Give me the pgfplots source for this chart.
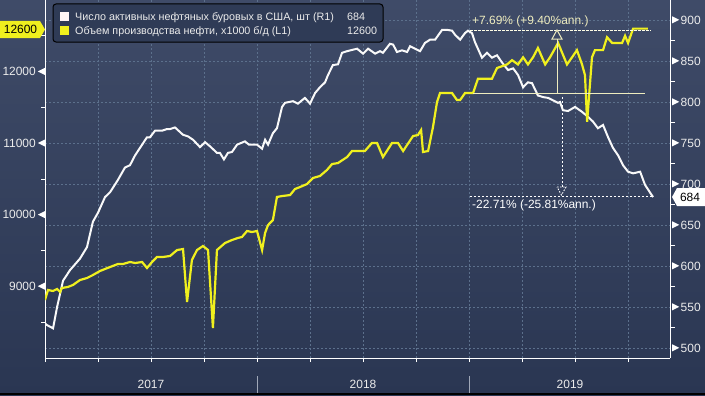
\documentclass[border=0pt]{standalone}
\usepackage{fontspec}
\setmainfont{Liberation Sans}
\usepackage{pgfplots}
\pgfplotsset{compat=1.18}
\definecolor{bgtop}{RGB}{63,75,104}
\definecolor{bgbot}{RGB}{42,54,82}
\definecolor{gridc}{RGB}{92,112,140}
\definecolor{yel}{RGB}{240,240,30}
\definecolor{cream}{RGB}{238,236,190}
\definecolor{legfill}{RGB}{47,59,86}
\definecolor{txt}{RGB}{235,235,235}
\definecolor{sepc}{RGB}{160,168,184}
\newcommand{\ltri}{\tikz[baseline=-4.3bp]\fill[white] (0,0) -- (7bp,3.5bp) -- (7bp,-3.5bp) -- cycle;}
\newcommand{\rtri}{\tikz[baseline=-4.3bp]\fill[white] (0,3.5bp) -- (7bp,0) -- (0,-3.5bp) -- cycle;}
\begin{document}
\begin{tikzpicture}[x=1bp,y=1bp]
\useasboundingbox (0,0) rectangle (705,395);
\shade[top color=bgtop, bottom color=bgbot] (0,0) rectangle (705,395);
\fill[black] (0,0) rectangle (705,2);
\draw[sepc, line width=1bp] (257,2) -- (257,19);
\draw[sepc, line width=1bp] (469,2) -- (469,19);
\node[txt, font=\fontsize{12}{14}\selectfont] at (151,11) {2017};
\node[txt, font=\fontsize{12}{14}\selectfont] at (363,11) {2018};
\node[txt, font=\fontsize{12}{14}\selectfont] at (570,11) {2019};

% right axis: rig count
\begin{axis}[
  at={(45bp,37bp)}, anchor=south west, scale only axis,
  width=625bp, height=358bp,
  xmin=2017, xmax=2019.948, ymin=487.8, ymax=924.4,
  axis y line*=right, axis x line*=bottom,
  axis line style={white, line width=1bp, -},
  xtick={2017,2017.25,...,2019.8}, minor x tick num=2,
  xticklabels={},
  ytick={500,550,...,900}, minor y tick num=1,
  tick align=outside,
  major tick length=4bp, minor tick length=5bp,
  tick style={white, line width=0.8bp},
  major y tick style={draw=none},
  xmajorgrids, ymajorgrids,
  major grid style={gridc, dash pattern=on 2bp off 2bp, line width=0.7bp},
  scaled y ticks=false,
  /pgf/number format/set thousands separator={},
  /pgf/number format/assume math mode=true,
  yticklabel={\rtri\hspace{1.5bp}\pgfmathprintnumber{\tick}},
  yticklabel style={anchor=west, inner sep=0pt, xshift=-2bp, text=txt, font=\fontsize{12}{14}\selectfont},
]
\addplot[white!95!gray, line width=2bp] coordinates {
(2017.000,530) (2017.009,528) (2017.038,524) (2017.057,550) (2017.085,582)
(2017.118,595) (2017.165,609) (2017.198,623) (2017.226,654) (2017.250,665)
(2017.283,684) (2017.307,690) (2017.344,705) (2017.377,720) (2017.401,723)
(2017.425,735) (2017.448,744) (2017.481,757) (2017.495,757) (2017.519,765)
(2017.552,765) (2017.575,767) (2017.590,767) (2017.613,769) (2017.651,760)
(2017.675,758) (2017.698,754) (2017.731,745) (2017.755,751) (2017.778,746)
(2017.811,738) (2017.825,738) (2017.844,730) (2017.863,738) (2017.882,739)
(2017.906,748) (2017.943,752) (2017.962,748) (2018.000,748) (2018.024,743)
(2018.038,754) (2018.052,748) (2018.075,762) (2018.094,768) (2018.118,794)
(2018.132,799) (2018.170,801) (2018.193,798) (2018.226,805) (2018.250,798)
(2018.274,811) (2018.297,818) (2018.321,824) (2018.335,833) (2018.358,845)
(2018.382,846) (2018.401,860) (2018.425,862) (2018.472,865) (2018.500,859)
(2018.524,865) (2018.557,859) (2018.580,862) (2018.594,860) (2018.627,871)
(2018.642,870) (2018.660,861) (2018.684,863) (2018.708,861) (2018.722,868)
(2018.769,862) (2018.792,872) (2018.816,876) (2018.840,876) (2018.873,888)
(2018.896,888) (2018.920,887) (2018.934,882) (2018.958,876) (2018.981,884)
(2018.995,887) (2019.014,884) (2019.028,873) (2019.061,854) (2019.085,860)
(2019.108,854) (2019.132,857) (2019.156,848) (2019.184,839) (2019.208,841)
(2019.231,833) (2019.255,818) (2019.278,824) (2019.297,823) (2019.325,808)
(2019.349,806) (2019.373,805) (2019.396,802) (2019.420,799) (2019.429,800)
(2019.443,790) (2019.467,789) (2019.500,794) (2019.533,788) (2019.561,782)
(2019.585,776) (2019.608,768) (2019.632,772) (2019.656,757) (2019.679,744)
(2019.703,735) (2019.726,723) (2019.750,715) (2019.774,713) (2019.807,715)
(2019.830,699) (2019.868,684)
};
\end{axis}

% left axis: oil production
\begin{axis}[
  at={(45bp,37bp)}, anchor=south west, scale only axis,
  width=625bp, height=358bp,
  xmin=2017, xmax=2019.948, ymin=8000, ymax=13000,
  axis y line*=left, hide x axis,
  axis line style={white, line width=1bp, -},
  ytick={9000,10000,11000,12000},
  minor ytick={8500,9500,10500,11500,12500},
  tick align=outside,
  major tick length=0bp, minor tick length=4bp,
  tick style={white, line width=0.8bp},
  major y tick style={draw=none},
  scaled y ticks=false,
  /pgf/number format/set thousands separator={},
  /pgf/number format/assume math mode=true,
  yticklabel={\pgfmathprintnumber{\tick}\hspace{2bp}\ltri},
  yticklabel style={anchor=east, inner sep=0pt, text=txt, font=\fontsize{12}{14}\selectfont},
]
\addplot[yel, line width=2.2bp] coordinates {
(2017.000,8810) (2017.014,8950) (2017.038,8936) (2017.057,8964) (2017.071,8922)
(2017.080,8978) (2017.108,8992) (2017.132,9020) (2017.165,9089) (2017.198,9117)
(2017.226,9159) (2017.259,9215) (2017.307,9271) (2017.344,9313) (2017.368,9313)
(2017.401,9341) (2017.425,9327) (2017.458,9341) (2017.481,9257) (2017.505,9341)
(2017.528,9411) (2017.557,9411) (2017.590,9425) (2017.623,9508) (2017.651,9522)
(2017.670,8782) (2017.693,9369) (2017.717,9508) (2017.745,9564) (2017.769,9508)
(2017.792,8419) (2017.811,9508) (2017.849,9606) (2017.882,9648) (2017.910,9676)
(2017.929,9690) (2017.953,9774) (2017.976,9760) (2018.000,9774) (2018.024,9508)
(2018.038,9746) (2018.052,9857) (2018.075,9927) (2018.094,10249) (2018.118,10262)
(2018.156,10276) (2018.179,10360) (2018.203,10388) (2018.236,10430) (2018.264,10514)
(2018.297,10542) (2018.330,10626) (2018.354,10709) (2018.382,10723) (2018.425,10807)
(2018.448,10891) (2018.509,10891) (2018.542,11003) (2018.566,11003) (2018.594,10807)
(2018.637,11003) (2018.665,11003) (2018.689,10891) (2018.736,11100) (2018.759,11114)
(2018.774,11184) (2018.783,10877) (2018.807,10891) (2018.830,11226) (2018.849,11575)
(2018.863,11700) (2018.920,11700) (2018.943,11603) (2018.958,11603) (2018.981,11700)
(2019.019,11700) (2019.042,11900) (2019.108,11900) (2019.132,12050) (2019.179,12100)
(2019.203,12160) (2019.231,12100) (2019.255,12200) (2019.278,12100) (2019.302,12200)
(2019.325,12330) (2019.359,12100) (2019.382,12200) (2019.420,12400) (2019.462,12100)
(2019.486,12200) (2019.509,12300) (2019.533,12100) (2019.547,11950) (2019.557,11300)
(2019.580,12200) (2019.594,12300) (2019.632,12300) (2019.651,12480) (2019.675,12400)
(2019.722,12400) (2019.736,12500) (2019.750,12400) (2019.774,12600) (2019.844,12600)
};
\end{axis}

% annotations
\draw[white!90!yellow, dash pattern=on 2.5bp off 1.5bp, line width=1bp] (470,364) -- (651,364);
\draw[cream, line width=1bp] (473,302) -- (645,302);
\draw[cream, line width=1bp] (557,302) -- (557,356);
\draw[cream, line width=1bp] (552,356) -- (557,365) -- (562,356) -- cycle;
\draw[white, dash pattern=on 2bp off 2bp, line width=1bp] (562,298) -- (562,208);
\draw[white, dash pattern=on 1.5bp off 1.5bp, line width=0.9bp] (557,208) -- (566,208) -- (561.5,200) -- cycle;
\draw[white, dash pattern=on 2bp off 2bp, line width=1bp] (470,199) -- (653,199);
\node[cream, anchor=base west, inner sep=0pt, font=\fontsize{12}{14}\selectfont] at (472,370.5) {+7.69\% (+9.40\%ann.)};
\node[white, anchor=base west, inner sep=0pt, font=\fontsize{12}{14}\selectfont] at (472,186.5) {-22.71\% (-25.81\%ann.)};

% value tags
\fill[yel] (0,357) -- (40,357) -- (45,365.5) -- (40,374) -- (0,374) -- cycle;
\node[black, inner sep=0pt, font=\fontsize{12}{14}\selectfont] at (20.5,365.5) {12600};
\fill[white] (672,198) -- (677,207) -- (705,207) -- (705,189) -- (677,189) -- cycle;
\node[black, inner sep=0pt, font=\fontsize{12}{14}\selectfont] at (690,198) {684};

% legend
\draw[rounded corners=3bp, fill=legfill, draw=black, line width=1bp] (53,353) rectangle (383,391);
\fill[white!96!red] (60,374) rectangle (69,383);
\fill[yel] (60,360) rectangle (69,369);
\node[txt, anchor=base west, inner sep=0pt, font=\fontsize{10.8}{13}\selectfont] at (75,375) {Число активных нефтяных буровых в США, шт (R1)};
\node[txt, anchor=base west, inner sep=0pt, font=\fontsize{10.8}{13}\selectfont] at (347,375) {684};
\node[txt, anchor=base west, inner sep=0pt, font=\fontsize{10.8}{13}\selectfont] at (75,361) {Объем производства нефти, x1000 б/д (L1)};
\node[txt, anchor=base west, inner sep=0pt, font=\fontsize{10.8}{13}\selectfont] at (347,361) {12600};
\end{tikzpicture}
\end{document}
